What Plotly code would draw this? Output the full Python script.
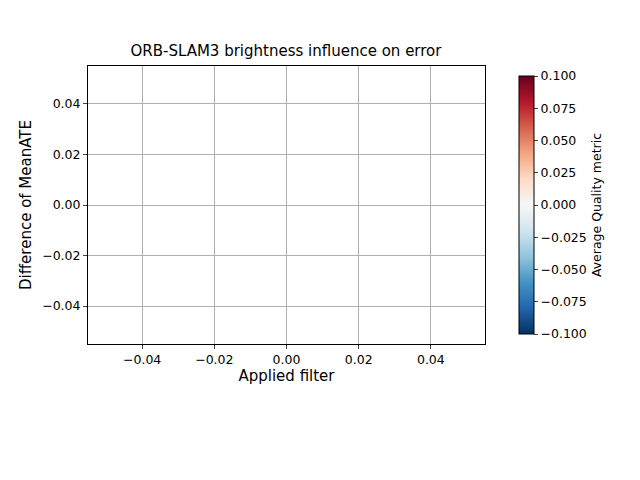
import plotly.graph_objects as go

# no runs survived: all series are empty
filters = []
mean_ate_diff = []
total_fail_x, total_fail_y = [], []
partial_fail_x, partial_fail_y = [], []
quality_range = [-0.1, 0.1]

ticks = [-0.04, -0.02, 0.0, 0.02, 0.04]
tick_text = ["−0.04", "−0.02", "0.00", "0.02", "0.04"]
cb_ticks = [-0.1, -0.075, -0.05, -0.025, 0.0, 0.025, 0.05, 0.075, 0.1]
cb_text = ["−0.100", "−0.075", "−0.050", "−0.025", "0.000", "0.025", "0.050", "0.075", "0.100"]

fig = go.Figure()
fig.add_trace(go.Scatter(x=filters, y=mean_ate_diff, mode="lines",
                         line=dict(color="#1f77b4", width=1.5), name="Tum Freiburg1 desk"))
fig.add_trace(go.Scatter(x=total_fail_x, y=total_fail_y, mode="markers",
                         marker=dict(symbol="x-thin", color="black", size=8, line=dict(width=2, color="black")),
                         name="Total failure"))
fig.add_trace(go.Scatter(x=partial_fail_x, y=partial_fail_y, mode="markers",
                         marker=dict(symbol="cross-thin", color="black", size=8, line=dict(width=2, color="black")),
                         name="Partial failure"))
# colourbar carrier (invisible)
fig.add_trace(go.Scatter(x=[0, 0], y=[0, 0], mode="markers", showlegend=False, hoverinfo="skip",
                         marker=dict(color=quality_range, colorscale="RdBu", reversescale=True,
                                     opacity=0, cmin=-0.1, cmax=0.1, showscale=True,
                                     colorbar=dict(thickness=15, len=1, x=1.06, xanchor="left",
                                                   y=1, yanchor="top", outlinewidth=1, outlinecolor="black",
                                                   tickvals=cb_ticks, ticktext=cb_text, ticks="outside",
                                                   ticklen=4, tickfont=dict(size=12.5),
                                                   title=dict(text="Average Quality metric", side="right",
                                                              font=dict(size=12.5))))))

fig.update_layout(
    width=640, height=480, paper_bgcolor="white", plot_bgcolor="white",
    margin=dict(l=80, r=163, t=58, b=144),
    font=dict(family="DejaVu Sans", color="black", size=12.5),
    title=dict(text="ORB-SLAM3 brightness influence on error", x=278/640, xanchor="center",
               y=1-43/480, yanchor="middle", font=dict(size=15)),
    legend=dict(orientation="h", x=-0.12, xanchor="left", y=-0.22, yanchor="top",
                bordercolor="#cccccc", borderwidth=1, font=dict(size=12.5)),
)
fig.update_xaxes(range=[-0.055, 0.055], tickvals=ticks, ticktext=tick_text, showgrid=True,
                 gridcolor="#b0b0b0", zeroline=False, showline=True, mirror=True, linecolor="black",
                 ticks="outside", ticklen=4, title=dict(text="Applied filter", standoff=4))
fig.update_yaxes(range=[-0.055, 0.055], tickvals=ticks, ticktext=tick_text, showgrid=True,
                 gridcolor="#b0b0b0", zeroline=False, showline=True, mirror=True, linecolor="black",
                 ticks="outside", ticklen=4, title=dict(text="Difference of MeanATE", standoff=6))
fig.write_html("out.html")
